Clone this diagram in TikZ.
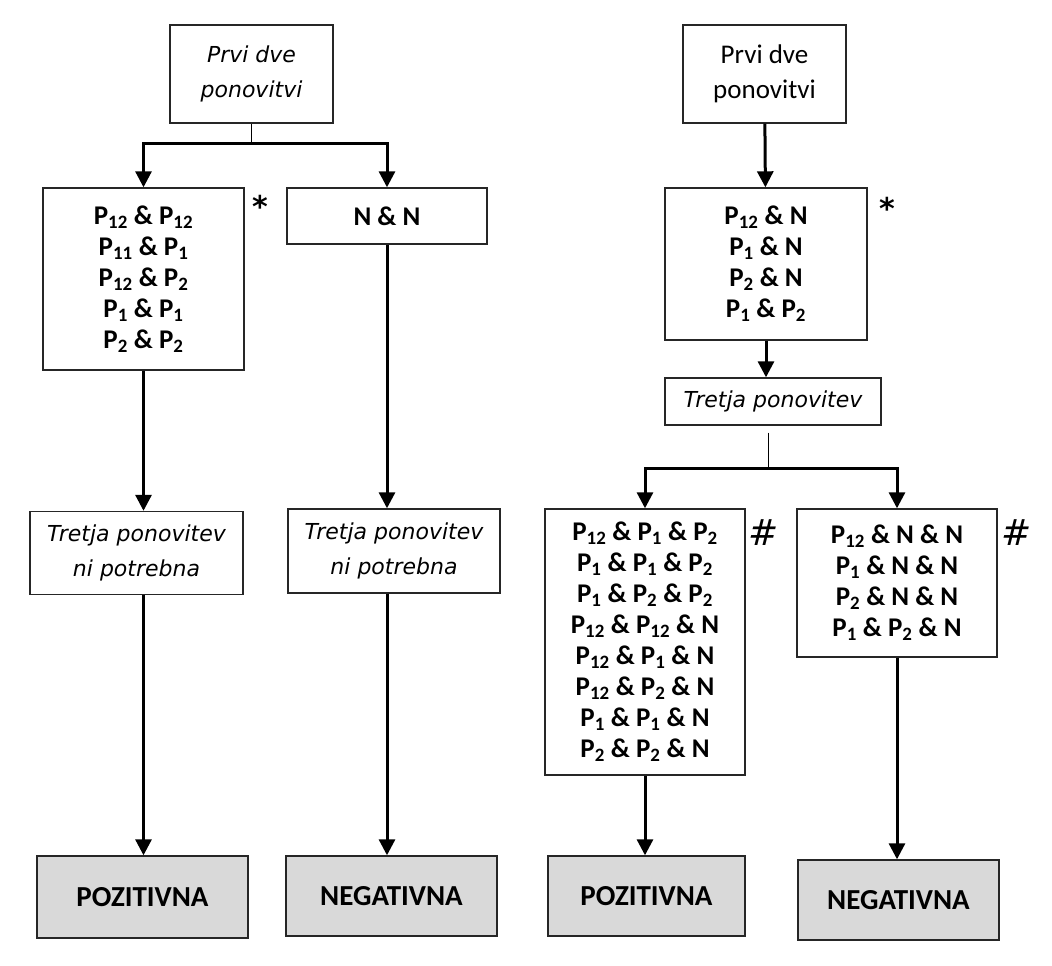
\documentclass[tikz,border=0pt]{standalone}
\usepackage{fontspec}
\setmainfont{Carlito}
\newfontfamily\dejavu{DejaVu Sans}
\usepackage{tikz}
\usetikzlibrary{arrows.meta, positioning, calc}
\usepackage{xcolor}
\definecolor{resfill}{HTML}{D9D9D9}
\newcommand{\Pn}[1]{P\textsubscript{#1}}

\begin{document}
\begin{tikzpicture}[
    x=1pt, y=-1pt,
    box/.style={
        rectangle, draw=black!85, line width=1.4pt,
        inner sep=0pt, align=center,
        font=\fontsize{27}{31}\selectfont\bfseries
    },
    note/.style={
        box, font=\fontsize{22}{35}\selectfont\dejavu\itshape
    },
    plain/.style={
        box, font=\fontsize{27}{35}\selectfont
    },
    result/.style={
        box, fill=resfill, font=\fontsize{29}{31}\selectfont\bfseries
    },
    star/.style={font=\fontsize{30}{30}\selectfont\dejavu\bfseries, inner sep=0pt},
    hashtag/.style={font=\fontsize{36}{36}\selectfont\dejavu\itshape, inner sep=0pt},
    arr/.style={-{Triangle[length=16pt,width=16pt]}, line width=3pt},
    stem/.style={line width=1pt},
]
\useasboundingbox (0,0) rectangle (1052,966);

% ── Left branch ──────
\node[note, minimum width=163pt, minimum height=98pt] (topL) at (251.5,74) {Prvi dve\\ponovitvi};
\node[box, minimum width=201pt, minimum height=182pt] (boxA) at (143.5,279)
    {\Pn{12} \& \Pn{12}\\\Pn{11} \& \Pn{1}\\\Pn{12} \& \Pn{2}\\\Pn{1} \& \Pn{1}\\\Pn{2} \& \Pn{2}};
\node[box, minimum width=200pt, minimum height=56pt] (boxNN) at (387,216) {N \& N};
\node[note, minimum width=213pt, minimum height=83pt] (tretjaL) at (136.5,553) {Tretja ponovitev\\ni potrebna};
\node[note, minimum width=212pt, minimum height=84pt] (tretjaR) at (394,551) {Tretja ponovitev\\ni potrebna};
\node[result, minimum width=211pt, minimum height=82pt] (pozL) at (142.5,897) {POZITIVNA};
\node[result, minimum width=211pt, minimum height=80pt] (negL) at (391.5,896) {NEGATIVNA};
\node[star] (starL) at (260,206) {*};

% ── Right branch ──────
\node[plain, minimum width=163pt, minimum height=98pt] (topR) at (764.5,74) {Prvi dve\\ponovitvi};
\node[box, minimum width=202pt, minimum height=152pt] (boxB) at (766,264)
    {\Pn{12} \& N\\\Pn{1} \& N\\\Pn{2} \& N\\\Pn{1} \& \Pn{2}};
\node[note, minimum width=216pt, minimum height=47pt] (tretja3) at (773,401.5) {Tretja ponovitev};
\node[box, minimum width=200pt, minimum height=266pt] (boxC) at (645,642)
    {\Pn{12} \& \Pn{1} \& \Pn{2}\\\Pn{1} \& \Pn{1} \& \Pn{2}\\\Pn{1} \& \Pn{2} \& \Pn{2}\\\Pn{12} \& \Pn{12} \& N\\\Pn{12} \& \Pn{1} \& N\\\Pn{12} \& \Pn{2} \& N\\\Pn{1} \& \Pn{1} \& N\\\Pn{2} \& \Pn{2} \& N};
\node[box, minimum width=200pt, minimum height=148pt] (boxD) at (897,583)
    {\Pn{12} \& N \& N\\\Pn{1} \& N \& N\\\Pn{2} \& N \& N\\\Pn{1} \& \Pn{2} \& N};
\node[result, minimum width=197pt, minimum height=80pt] (pozR) at (646.5,896) {POZITIVNA};
\node[result, minimum width=201pt, minimum height=80pt] (negR) at (898.5,900) {NEGATIVNA};
\node[star] (starR) at (887,208) {*};
\node[hashtag] (hashC) at (764,533) {\#};
\node[hashtag] (hashD) at (1017,533) {\#};

% ── Connectors left ──────
\coordinate (jL) at (251.5,143);
\draw[stem] (topL) -- (jL);
\draw[arr] (jL) -| (boxA.north);
\draw[arr] (jL) -| (boxNN.north);
\draw[arr] (boxA.south) -- (boxA.south |- tretjaL.north);
\draw[arr] (boxA.south |- tretjaL.south) -- (boxA.south |- pozL.north);
\draw[arr] (boxNN.south) -- (boxNN.south |- tretjaR.north);
\draw[arr] (boxNN.south |- tretjaR.south) -- (boxNN.south |- negL.north);

% ── Connectors right ──────
\coordinate (jR) at (768,468);
\draw[arr] (topR) -- (boxB);
\draw[arr] (boxB.south) -- (boxB.south |- tretja3.north);
\draw[stem] ($(tretja3.south)+(-5,7)$) -- (jR);
\draw[arr] (jR) -| (boxC.north);
\draw[arr] (jR) -| (boxD.north);
\draw[arr] (boxC.south) -- (boxC.south |- pozR.north);
\draw[arr] (boxD.south) -- (boxD.south |- negR.north);

\end{tikzpicture}
\end{document}
